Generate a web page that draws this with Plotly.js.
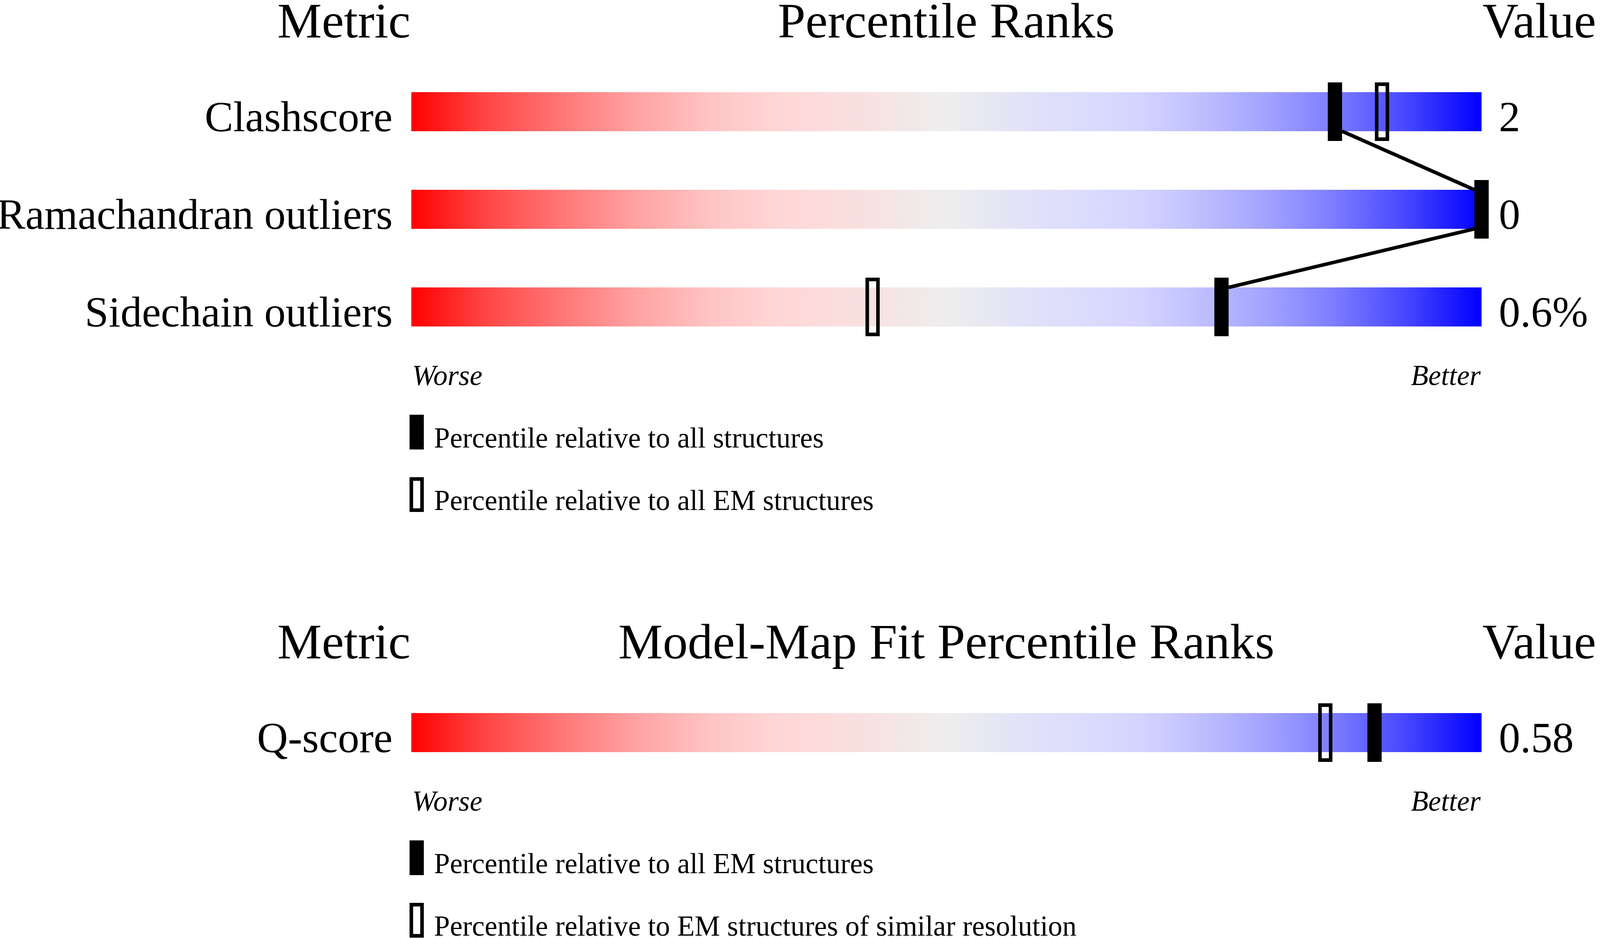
<!DOCTYPE html>
<html>
<head>
<meta charset="utf-8">
<script src="https://cdn.plot.ly/plotly-3.0.1.min.js"></script>
<style>
  html, body { margin: 0; padding: 0; background: #fff; overflow: hidden; }
</style>
</head>
<body>
<div id="chart"></div>
<script>
// validation sliders - geometry quality
var geomMetrics = ['Clashscore', 'Ramachandran outliers', 'Sidechain outliers'];
var geomValues = ['2', '0', '0.6%'];
var geomPctAll = [86.3, 100, 75.7];   // percentile relative to all structures
var geomPctEM = [90.7, 100, 43.1];    // percentile relative to all EM structures
var geomLegend = ['Percentile relative to all structures', 'Percentile relative to all EM structures'];

// model-map fit
var fitMetrics = ['Q-score'];
var fitValues = ['0.58'];
var fitPctEM = [90.0];                // percentile relative to all EM structures
var fitPctRes = [85.4];               // percentile relative to EM structures of similar resolution
var fitLegend = ['Percentile relative to all EM structures', 'Percentile relative to EM structures of similar resolution'];

// page geometry, in pixels of the 4485 x 2402 picture
var W = 4485, H = 2402;
var BAR_L = 1153, BAR_R = 4153;
var PX = 100 / (BAR_R - BAR_L);      // percentile units per pixel
var ROW_GAP = 250, BAR_H = 100, MARK_H = 150, MARK_W = 40, BORDER = 10;
var FONT = 'Liberation Serif, Times New Roman, serif';

// the browser window can be narrower than the picture: stretch to fill it
var SX = (window.innerWidth || W) / W;
var SY = (window.innerHeight || H) / H;
var K = SX / SY;                      // a css px of x measured in y units
var chartDiv = document.getElementById('chart');
chartDiv.style.width = (W * SX) + 'px';
chartDiv.style.height = (H * SY) + 'px';

var gradient = [
  [0, '#ff0000'], [0.07, '#ff4646'], [0.14, '#ff7676'], [0.21, '#ffa2a2'],
  [0.28, '#ffc4c4'], [0.34, '#ffd6d6'], [0.42, '#f9e0e0'], [0.5, '#eeeeee'],
  [0.57, '#e2e2f8'], [0.64, '#dadafe'], [0.68, '#d4d4ff'], [0.73, '#c2c2ff'],
  [0.8, '#a2a2ff'], [0.86, '#7e7eff'], [0.93, '#4646ff'], [1, '#0000ff']
];

var panels = [
  {title: 'Percentile Ranks', metrics: geomMetrics, values: geomValues,
   solid: geomPctAll, hollow: geomPctEM, legend: geomLegend, top: 286},
  {title: 'Model-Map Fit Percentile Ranks', metrics: fitMetrics, values: fitValues,
   solid: fitPctEM, hollow: fitPctRes, legend: fitLegend, top: 1876}
];

// text is placed by its baseline; annotations anchor on the middle of the text box
function mid(baseline, size) { return baseline - 0.3375 * size * K; }

var traces = [], annotations = [], shapes = [];

function txt(x, y, text, size, anchor, xshift) {
  annotations.push({
    x: x, y: y, xref: 'x', yref: 'y', text: text, showarrow: false,
    xanchor: anchor, yanchor: 'middle', xshift: (xshift || 0) * SX,
    font: {family: FONT, size: size * SX, color: '#000'}
  });
}

panels.forEach(function(p) {
  var rows = p.metrics.map(function(m, i) { return p.top + i * ROW_GAP; });

  // headers
  var hb = p.top - 190;
  txt(0, mid(hb, 140), 'Metric', 140, 'right');
  txt(50, mid(hb, 140), p.title, 140, 'center');
  txt(100, mid(hb, 140), 'Value', 140, 'left');

  rows.forEach(function(c, i) {
    // gradient bar over the whole percentile range
    traces.push({
      type: 'scatter', mode: 'none', fill: 'toself', zorder: 0,
      x: [0, 100, 100, 0, 0],
      y: [c - BAR_H / 2, c - BAR_H / 2, c + BAR_H / 2, c + BAR_H / 2, c - BAR_H / 2],
      fillgradient: {type: 'horizontal', start: 0, stop: 100, colorscale: gradient},
      hoverinfo: 'skip'
    });
    txt(0, mid(c + BAR_H / 2, 120), p.metrics[i], 120, 'right', -50);
    txt(100, mid(c + BAR_H / 2, 120), p.values[i], 120, 'left', 46);
  });

  // hollow markers (outline drawn on the path, so the path is inset by half the border)
  var hh = MARK_H - BORDER * K;
  traces.push({
    type: 'bar', zorder: 1, x: p.hollow,
    y: p.hollow.map(function() { return hh; }),
    base: rows.map(function(c) { return c - hh / 2; }),
    width: (MARK_W - BORDER) * PX,
    marker: {color: 'rgba(0,0,0,0)', line: {color: '#000', width: BORDER * SX}}
  });
  // solid markers
  traces.push({
    type: 'bar', zorder: 2, x: p.solid,
    y: p.solid.map(function() { return MARK_H; }),
    base: rows.map(function(c) { return c - MARK_H / 2; }),
    width: MARK_W * PX,
    marker: {color: '#000', line: {width: 0}}
  });

  // connector between solid markers
  if (rows.length > 1) {
    var lx = [], ly = [];
    for (var i = 0; i < rows.length - 1; i++) {
      var s = p.solid[i + 1] >= p.solid[i] ? 1 : -1;
      lx.push(p.solid[i] + s * MARK_W / 2 * PX, p.solid[i + 1] - s * MARK_W / 2 * PX, null);
      ly.push(rows[i] + BAR_H / 2, rows[i + 1] - BAR_H / 2, null);
    }
    traces.push({type: 'scatter', mode: 'lines', zorder: 3, x: lx, y: ly,
      line: {color: '#000', width: 10 * SX}, connectgaps: false, hoverinfo: 'skip'});
  }

  // worse / better
  var wb = rows[rows.length - 1] + 200;
  txt(0, mid(wb, 80), '<i>Worse</i>', 80, 'left');
  txt(100, mid(wb, 80), '<i>Better</i>', 80, 'right');

  // key
  p.legend.forEach(function(label, k) {
    var b = wb + 160 * (k + 1);
    if (k === 0) {
      shapes.push({type: 'rect', xref: 'x', yref: 'y', x0: -5 * PX, x1: 35 * PX,
        y0: b - 84, y1: b + 5, fillcolor: '#000', line: {width: 0}});
    } else {
      var inset = BORDER * K / 2;
      shapes.push({type: 'rect', xref: 'x', yref: 'y', x0: 0, x1: 30 * PX,
        y0: b - 84 + inset, y1: b + 5 - inset, fillcolor: 'rgba(0,0,0,0)',
        line: {color: '#000', width: BORDER * SX}});
    }
    txt(0, mid(b, 80), label, 80, 'left', 61);
  });
});

var layout = {
  width: W * SX, height: H * SY,
  margin: {l: 0, r: 0, t: 0, b: 0, pad: 0},
  paper_bgcolor: '#fff', plot_bgcolor: '#fff',
  showlegend: false, barmode: 'overlay',
  xaxis: {range: [-BAR_L * PX, (W - BAR_L) * PX], visible: false, fixedrange: true},
  yaxis: {range: [H, 0], visible: false, fixedrange: true},
  annotations: annotations, shapes: shapes,
  font: {family: FONT}
};

Plotly.newPlot('chart', traces, layout, {staticPlot: true});
</script>
</body>
</html>
